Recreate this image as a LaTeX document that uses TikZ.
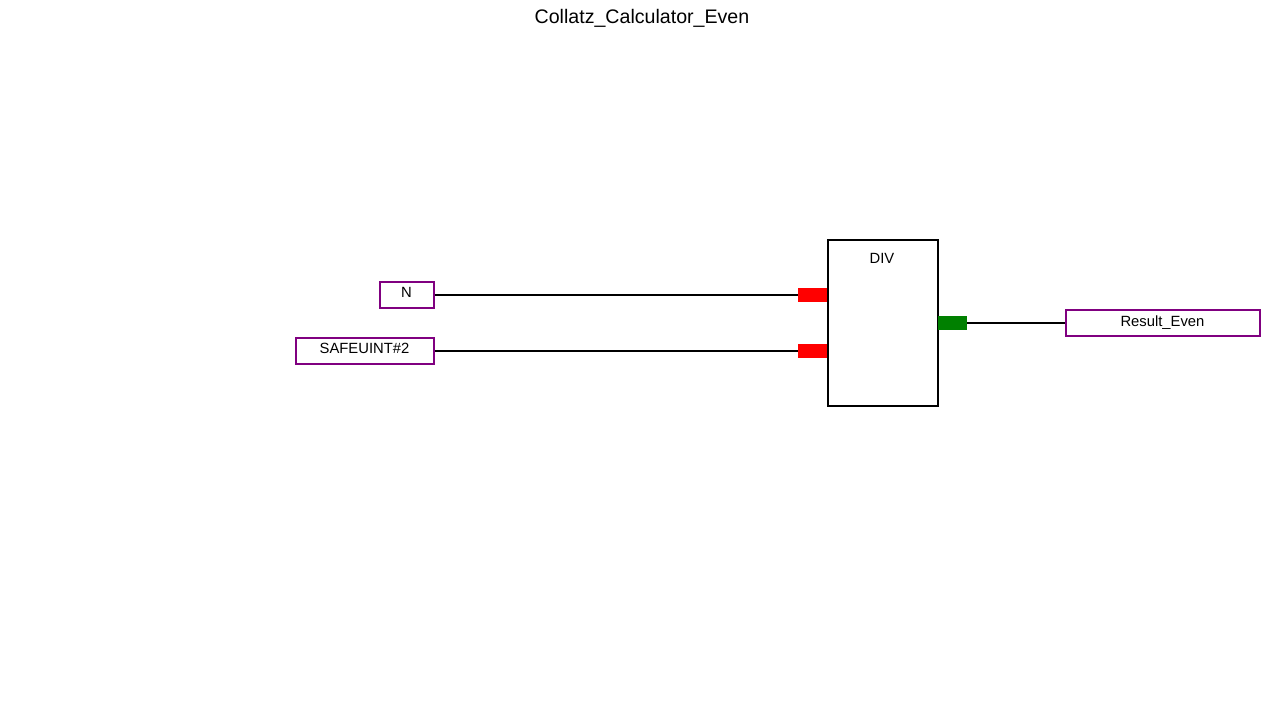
\documentclass[tikz,border=0pt]{standalone}
\usepackage{fontspec}
\setmainfont{Liberation Sans}
\definecolor{varpurple}{RGB}{128,0,128}
\definecolor{pingreen}{RGB}{0,128,0}
\definecolor{pinred}{RGB}{255,0,0}
\begin{document}
\begin{tikzpicture}[x=0.5pt,y=-0.5pt,
    varbox/.style={draw=varpurple, line width=1pt, minimum height=13pt, inner sep=0pt, text depth=1.8pt, font=\fontsize{7.4}{9}\selectfont},
    inpin/.style={fill=pinred, minimum width=14.5pt, minimum height=7pt, inner sep=0pt},
    outpin/.style={fill=pingreen, minimum width=14.5pt, minimum height=7pt, inner sep=0pt},
    wire/.style={line width=1pt}]
    \useasboundingbox (0,0) rectangle (1285,725);
    % Title
    \node[font=\fontsize{9.8}{11}\selectfont] (title) at (642,18) {Collatz\_Calculator\_Even};
    % Block
    \node[draw, line width=1pt, minimum width=55pt, minimum height=83pt, inner sep=0pt] (div) at (882.5,322.5) {};
    \node[font=\fontsize{7.4}{9}\selectfont] (divlabel) at (882,258.5) {DIV};
    % Pins
    \node[inpin] (in1) at (812.5,294.5) {};
    \node[inpin] (in2) at (812.5,350.5) {};
    \node[outpin] (out) at (952.5,322.5) {};
    % Variables
    \node[varbox, minimum width=27pt] (n) at (406.5,294.5) {N};
    \node[varbox, minimum width=69pt] (safe) at (364.5,350.5) {SAFEUINT\#2};
    \node[varbox, minimum width=97pt] (res) at (1162.5,322.5) {Result\_Even};
    % Wires
    \draw[wire] (n.east) -- (in1.west);
    \draw[wire] (safe.east) -- (in2.west);
    \draw[wire] (out.east) -- (res.west);
\end{tikzpicture}
\end{document}
